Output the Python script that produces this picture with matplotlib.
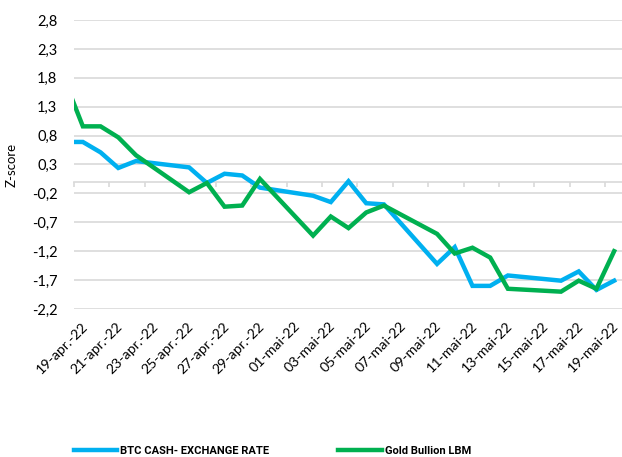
import numpy as np
import pandas as pd
import matplotlib
matplotlib.use("Agg")
import matplotlib.pyplot as plt

plt.rcParams['font.family'] = ['Lato', 'DejaVu Sans']

# trading days (Apr 18 lies just left of the plot and is clipped)
dates = ["2022-04-18", "2022-04-19", "2022-04-20", "2022-04-21", "2022-04-22",
         "2022-04-25", "2022-04-26", "2022-04-27", "2022-04-28", "2022-04-29",
         "2022-05-02", "2022-05-03", "2022-05-04", "2022-05-05", "2022-05-06",
         "2022-05-09", "2022-05-10", "2022-05-11", "2022-05-12", "2022-05-13",
         "2022-05-16", "2022-05-17", "2022-05-18", "2022-05-19"]
btc = [0.69, 0.69, 0.51, 0.24, 0.36,
       0.25, -0.02, 0.14, 0.11, -0.10,
       -0.24, -0.35, 0.01, -0.37, -0.39,
       -1.42, -1.13, -1.80, -1.80, -1.62,
       -1.71, -1.55, -1.87, -1.71]
gold = [1.74, 0.96, 0.96, 0.77, 0.46,
        -0.18, -0.02, -0.43, -0.41, 0.05,
        -0.93, -0.60, -0.80, -0.53, -0.41,
        -0.90, -1.24, -1.14, -1.31, -1.85,
        -1.90, -1.71, -1.85, -1.20]
tick_labels = ["19-apr.-22", "21-apr.-22", "23-apr.-22", "25-apr.-22",
               "27-apr.-22", "29-apr.-22", "01-mai-22", "03-mai-22",
               "05-mai-22", "07-mai-22", "09-mai-22", "11-mai-22",
               "13-mai-22", "15-mai-22", "17-mai-22", "19-mai-22"]
yticks = [2.8, 2.3, 1.8, 1.3, 0.8, 0.3, -0.2, -0.7, -1.2, -1.7, -2.2]

start = pd.Timestamp("2022-04-19")
x = (pd.to_datetime(dates) - start).days.values + 0.5

fig = plt.figure(figsize=(6.22, 4.57), dpi=100)
ax = fig.add_axes([74/622, 1 - 309/457, 549/622, 289/457])

grid_c = '#d9d9d9'
ax.plot(x, btc, color='#00B0F0', lw=3.2, label='BTC CASH- EXCHANGE RATE',
        solid_joinstyle='miter', zorder=3)
ax.plot(x, gold, color='#00B050', lw=3.2, label='Gold Bullion LBM',
        solid_joinstyle='miter', zorder=4)

ax.set_xlim(0, 31)
ax.set_ylim(-2.2, 2.8)
ax.set_yticks(yticks)
ax.set_yticklabels([f"{v:.1f}".replace('.', ',') for v in yticks], fontsize=10.5)
ax.yaxis.grid(True, color=grid_c, lw=1.2)
ax.set_axisbelow(True)
ax.tick_params(axis='y', length=0, pad=12)
ax.set_ylabel('Z-score', fontsize=9.5, labelpad=10)

for s in ['top', 'right', 'left']:
    ax.spines[s].set_visible(False)
ax.spines['bottom'].set_position(('data', 0))
ax.spines['bottom'].set_color(grid_c)
ax.spines['bottom'].set_linewidth(1.2)
ax.set_xticks(np.arange(0, 31, 2))
ax.tick_params(axis='x', length=3.5, width=1.2, color=grid_c, labelbottom=False)

sec = ax.secondary_xaxis('bottom')
sec.set_xticks(np.arange(0, 31, 2) + 0.4)
sec.set_xticklabels(tick_labels, rotation=45, ha='right', rotation_mode='anchor',
                    fontsize=10.2)
sec.tick_params(length=0, pad=8)
sec.spines['bottom'].set_visible(False)

leg = fig.legend(loc='center left', bbox_to_anchor=(68/622, 1 - 451/457),
                 ncol=2, frameon=False, borderpad=0, handlelength=3.9,
                 columnspacing=6.2, handletextpad=0.3,
                 prop={'family': 'Roboto', 'weight': 'bold', 'size': 8})

fig.savefig('out.png', dpi=100)
